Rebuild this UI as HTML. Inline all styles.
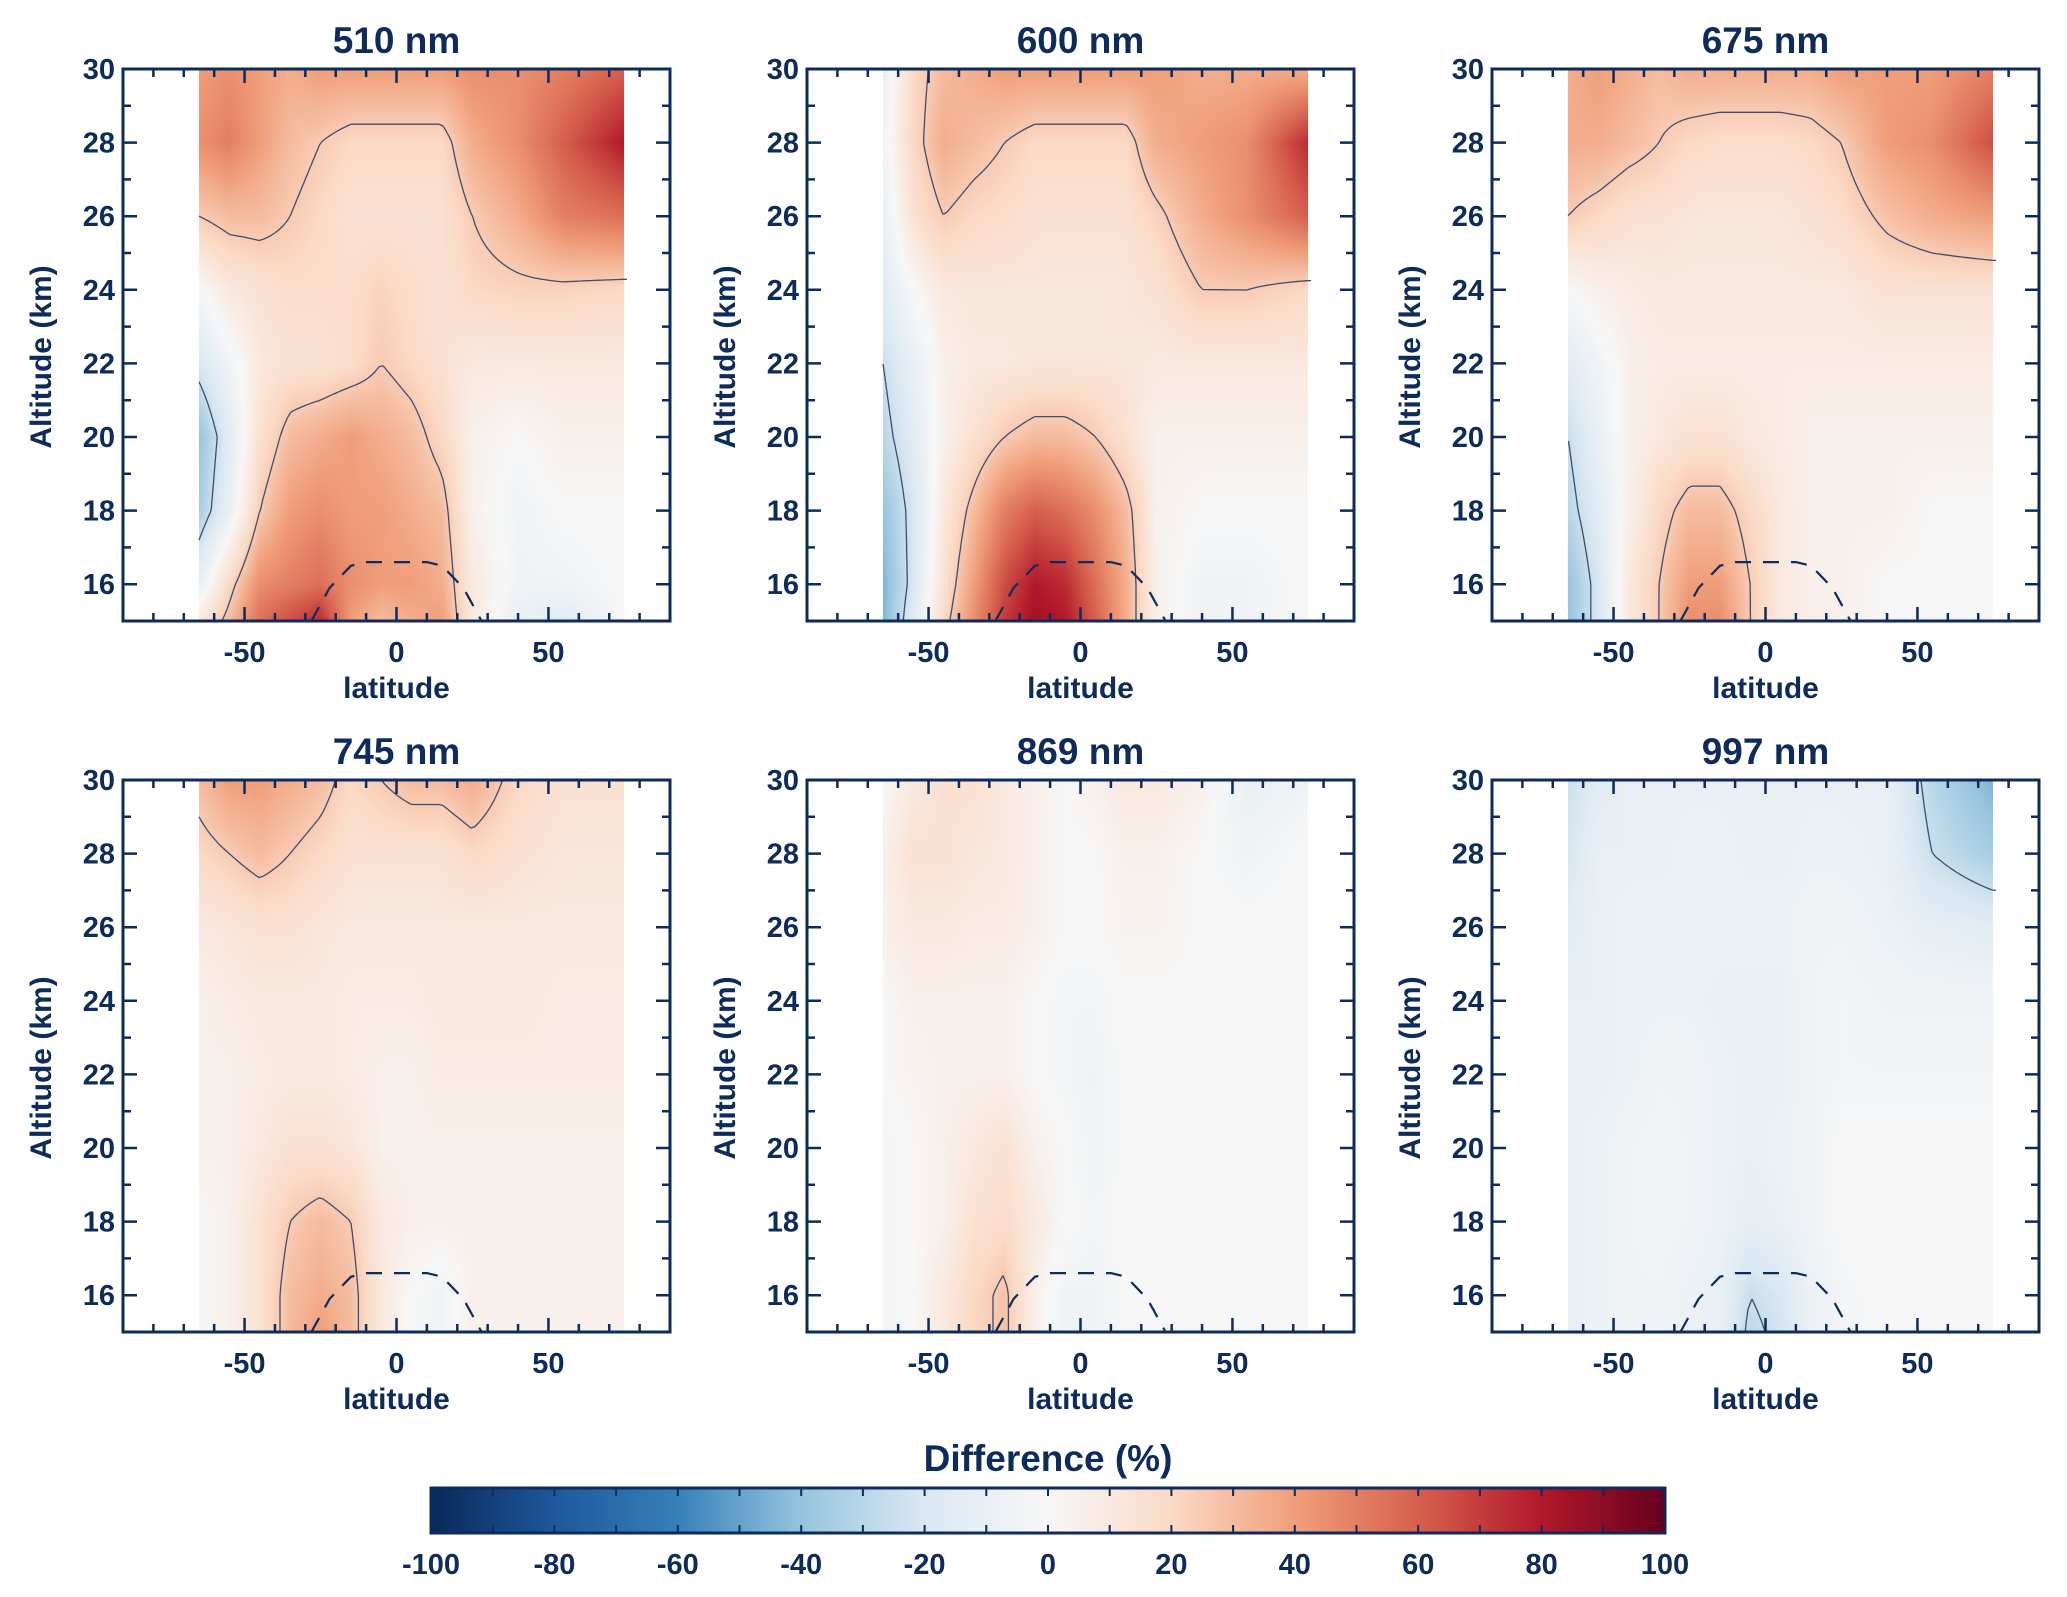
<!DOCTYPE html>
<html><head><meta charset="utf-8">
<style>
html,body{margin:0;padding:0;background:#fff;}
#wrap{position:relative;width:2067px;height:1597px;overflow:hidden;font-family:"Liberation Sans",sans-serif;}
canvas{position:absolute;}
svg{position:absolute;left:0;top:0;}
text{font-family:"Liberation Sans",sans-serif;font-weight:bold;fill:#0d2b5b;}
</style></head>
<body>
<div id="wrap">
<svg id="svg" width="2067" height="1597"></svg>
</div>
<script>
// ---- data ----
const titles = ["510 nm","600 nm","675 nm","745 nm","869 nm","997 nm"];
const lats = [-65,-55,-45,-35,-25,-15,-5,5,15,25,40,55,75];
const alts = [30,28,26,24,22,20,18,16,15];
const v510 = [
[40,45,40,35,40,40,40,40,40,45,45,50,60],
[45,50,40,30,25,20,20,20,20,35,45,60,80],
[25,30,30,25,20,15,15,15,15,25,35,50,55],
[0,10,15,18,18,18,22,18,15,20,22,22,20],
[-20,-5,10,15,15,18,25,20,15,10,10,10,10],
[-40,-15,15,30,35,40,35,30,20,5,0,5,5],
[-35,-10,25,40,45,40,40,35,30,5,-5,0,0],
[-10,20,45,50,55,45,40,40,35,10,-5,-5,0],
[10,30,55,65,75,40,30,35,40,10,-10,-15,0]];
const v600 = [
[-10,20,30,35,40,40,40,40,40,40,35,35,35],
[-5,20,35,30,25,20,20,20,20,35,40,45,75],
[-10,15,25,20,18,15,15,15,15,22,35,45,60],
[-15,0,10,12,12,12,12,12,12,15,25,25,20],
[-25,-10,5,10,10,12,12,12,12,10,10,10,10],
[-30,-15,5,15,25,30,30,25,15,5,5,5,5],
[-40,-20,10,30,50,60,55,45,30,5,0,0,0],
[-45,-20,15,40,65,80,75,55,35,5,-5,-5,0],
[-45,-15,20,45,70,85,80,60,35,5,-5,-5,0]];
const v675 = [
[35,40,35,30,35,35,35,35,35,40,40,40,50],
[35,35,30,25,20,18,18,18,20,25,40,45,65],
[25,20,15,15,12,12,12,12,15,18,28,35,40],
[0,5,8,10,10,10,10,10,10,10,15,15,15],
[-15,-5,5,8,8,8,8,8,8,8,8,8,8],
[-25,-10,5,10,15,15,10,8,5,5,5,5,5],
[-30,-15,5,20,30,30,20,10,5,5,5,0,0],
[-40,-20,10,25,40,40,25,10,5,5,0,0,0],
[-40,-20,10,25,45,45,25,10,5,5,0,0,0]];
const v745 = [
[30,40,40,35,30,20,25,30,30,35,20,15,15],
[20,25,30,25,20,15,15,15,15,20,15,12,12],
[10,12,15,15,12,10,10,10,10,10,10,10,10],
[5,8,10,10,10,8,8,8,10,10,10,8,8],
[5,5,8,10,10,8,5,5,8,8,8,8,8],
[5,5,10,15,15,12,5,5,5,5,5,5,5],
[0,5,15,25,30,25,10,5,5,5,5,5,5],
[0,5,15,30,35,30,10,0,-5,5,5,5,5],
[0,5,15,30,40,30,10,0,-5,5,5,5,5]];
const v869 = [
[0,10,15,15,10,5,0,5,10,10,5,-10,-5],
[5,15,15,12,10,5,0,0,5,5,0,-5,0],
[5,10,10,8,8,5,0,0,3,3,0,0,0],
[0,5,5,5,5,0,-3,-3,0,0,0,0,0],
[0,3,5,5,5,0,-3,-5,0,0,0,0,0],
[-3,0,5,10,15,5,0,-5,0,0,0,0,0],
[-3,0,5,15,18,10,0,-3,0,0,0,0,0],
[-3,0,10,20,28,5,-5,-5,0,0,0,0,0],
[-3,0,10,20,28,5,-5,-5,0,0,0,0,0]];
const v997 = [
[-25,-15,-10,-10,-10,-10,-10,-10,-10,-10,-10,-30,-45],
[-20,-10,-10,-10,-8,-8,-10,-10,-8,-8,-10,-25,-35],
[-15,-10,-8,-8,-8,-8,-8,-8,-5,-5,-8,-12,-15],
[-10,-10,-8,-8,-8,-10,-10,-10,-5,-3,-5,-5,-5],
[-10,-10,-8,-5,-5,-8,-10,-10,-5,-3,-3,-3,-3],
[-10,-8,-5,-3,-5,-8,-10,-8,-5,0,0,0,0],
[-10,-8,-5,-3,-5,-8,-12,-10,-5,0,0,0,0],
[-10,-8,-5,-5,-8,-10,-25,-20,-8,-3,0,0,0],
[-10,-8,-5,-5,-8,-10,-28,-22,-8,-3,0,0,0]];
const panelValues = [v510,v600,v675,v745,v869,v997];
const contourLevels = [25,-25];
const tropLat = [-28,-22,-15,-10,0,10,15,22,28];
const tropAlt = [15,15.9,16.5,16.6,16.6,16.6,16.5,15.9,15];
const xTicks = [-50,0,50];
const yTicks = [16,18,20,22,24,26,28,30];
const cbTicks = [-100,-80,-60,-40,-20,0,20,40,60,80,100];

// ---- layout ----
const NS="http://www.w3.org/2000/svg";
const svg=document.getElementById('svg');
const wrap=document.getElementById('wrap');
const PL=[123,807,1492], PT=[69,780], PW=547, PH=552;
const XMIN=-90,XMAX=90,YMIN=15,YMAX=30;
const C="#0d2b5b";
function el(tag,attrs,parent){const e=document.createElementNS(NS,tag);for(const k in attrs)e.setAttribute(k,attrs[k]);(parent||svg).appendChild(e);return e;}

const cmapStops=[[-100,[10,40,90]],[-80,[30,88,155]],[-60,[55,128,185]],[-40,[150,196,222]],[-20,[218,232,242]],[0,[247,247,247]],[20,[251,218,198]],[40,[240,158,122]],[60,[214,96,77]],[80,[178,24,43]],[100,[103,0,31]]];
function cmap(v){v=Math.max(-100,Math.min(100,v));for(let i=0;i<cmapStops.length-1;i++){const a=cmapStops[i],b=cmapStops[i+1];if(v<=b[0]){const t=(v-a[0])/(b[0]-a[0]);return [0,1,2].map(j=>Math.round(a[1][j]+(b[1][j]-a[1][j])*t));}}return cmapStops[10][1];}
function findIdx(arr,x,desc){ // returns [i,t]
  for(let i=0;i<arr.length-1;i++){const a=arr[i],b=arr[i+1];const lo=Math.min(a,b),hi=Math.max(a,b);if(x>=lo&&x<=hi){return [i,(x-a)/(b-a)];}}
  return x<arr[0]===!desc?[0,0]:[arr.length-2,1];
}
function sample(vals,lat,alt){
  const [i,ti]=findIdx(lats,lat,false);const [j,tj]=findIdx(alts,alt,true);
  const a=vals[j][i],b=vals[j][i+1],c=vals[j+1][i],d=vals[j+1][i+1];
  return (a*(1-ti)+b*ti)*(1-tj)+(c*(1-ti)+d*ti)*tj;
}

titles.forEach((title,p)=>{
  const L=PL[p%3],T=PT[Math.floor(p/3)];
  const sx=v=>L+(v-XMIN)/(XMAX-XMIN)*PW;
  const sy=v=>T+PH-(v-YMIN)/(YMAX-YMIN)*PH;
  const vals=panelValues[p];
  const g=el('g',{});
  
  
  // heatmap canvas
  const x0=Math.round(sx(lats[0])),x1=Math.round(sx(lats[lats.length-1]));
  const cw=x1-x0,ch=PH;
  const cv=document.createElement('canvas');cv.width=cw;cv.height=ch;
  cv.style.left=x0+'px';cv.style.top=T+'px';
  
  
  wrap.insertBefore(cv,svg);
  const ctx=cv.getContext('2d');const img=ctx.createImageData(cw,ch);
  for(let y=0;y<ch;y++){const alt=YMAX-(y+0.5)/ch*(YMAX-YMIN);
    for(let x=0;x<cw;x++){const lat=lats[0]+(x+0.5)/cw*(lats[lats.length-1]-lats[0]);
      const c=cmap(sample(vals,lat,alt));const k=(y*cw+x)*4;img.data[k]=c[0];img.data[k+1]=c[1];img.data[k+2]=c[2];img.data[k+3]=255;}}
  ctx.putImageData(img,0,0);
  // contours (marching squares)
  const step=4;const nx=Math.ceil(cw/step),ny=Math.ceil(ch/step);
  const grid=[];for(let j=0;j<=ny;j++){const row=[];const alt=YMAX-Math.min(j*step,ch)/ch*(YMAX-YMIN);
    for(let i=0;i<=nx;i++){const lat=lats[0]+Math.min(i*step,cw)/cw*(lats[lats.length-1]-lats[0]);row.push(sample(vals,lat,alt));}grid.push(row);}
  contourLevels.forEach(lv=>{
    let d='';
    for(let j=0;j<ny;j++)for(let i=0;i<nx;i++){
      const px=i*step+x0,py=j*step+T;
      const a=grid[j][i],b=grid[j][i+1],c=grid[j+1][i+1],e=grid[j+1][i];
      const pts=[];
      const ed=(va,vb,xa,ya,xb,yb)=>{if((va-lv)*(vb-lv)<0){const t=(lv-va)/(vb-va);pts.push([xa+(xb-xa)*t,ya+(yb-ya)*t]);}};
      ed(a,b,px,py,px+step,py);ed(b,c,px+step,py,px+step,py+step);ed(e,c,px,py+step,px+step,py+step);ed(a,e,px,py,px,py+step);
      if(pts.length>=2)d+=`M${pts[0][0].toFixed(1)},${pts[0][1].toFixed(1)}L${pts[1][0].toFixed(1)},${pts[1][1].toFixed(1)}`;
      if(pts.length===4)d+=`M${pts[2][0].toFixed(1)},${pts[2][1].toFixed(1)}L${pts[3][0].toFixed(1)},${pts[3][1].toFixed(1)}`;
    }
    const cp=el('path',{d:d,stroke:'#3d4d6d','stroke-width':1.3,fill:'none'},g);
    
    
  });
  // tropopause dashed line
  const td=tropLat.map((la,i)=>(i?'L':'M')+sx(la).toFixed(1)+','+sy(tropAlt[i]).toFixed(1)).join('');
  const tp=el('path',{d:td,stroke:C,'stroke-width':2.2,fill:'none','stroke-dasharray':'16,12'},g);
  
  
  // frame
  const fr=el('rect',{x:L,y:T,width:PW,height:PH,fill:'none',stroke:C,'stroke-width':3},g);
  
  
  // minor/major ticks
  let tk='';
  for(let v=-80;v<=80;v+=10){const X=sx(v);const len=(v%50===0)?14:8;tk+=`M${X},${T+PH}v${-len}M${X},${T}v${len}`;}
  for(let v=16;v<=29;v++){const Y=sy(v);const len=(v%2===0)?14:8;tk+=`M${L},${Y}h${len}M${L+PW},${Y}h${-len}`;}
  const tks=el('path',{d:tk,stroke:C,'stroke-width':2.5,fill:'none'},g);
  
  
  xTicks.forEach(v=>{const t=el('text',{x:sx(v),y:T+PH+41,'text-anchor':'middle','font-size':29},g);t.textContent=v;
    
    });
  yTicks.forEach(v=>{const t=el('text',{x:L-8,y:sy(v)+10,'text-anchor':'end','font-size':29},g);t.textContent=v;
    
    });
  const xl=el('text',{x:L+PW/2,y:T+PH+77,'text-anchor':'middle','font-size':30},g);xl.textContent='latitude';
  
  
  const yl=el('text',{x:0,y:0,'text-anchor':'middle','font-size':30,transform:`translate(${L-72},${T+PH/2+12}) rotate(-90)`},g);yl.textContent='Altitude (km)';
  
  
  const tt=el('text',{x:L+PW/2,y:T-16,'text-anchor':'middle','font-size':37},g);tt.textContent=title;
  
  
});

// ---- colorbar ----
const CBL=431,CBR=1665,CBT=1488,CBB=1533;
const cbx=v=>CBL+(v+100)/200*(CBR-CBL);
const defs=el('defs',{});
const lg=el('linearGradient',{id:'cbg',x1:0,x2:1,y1:0,y2:0},defs);
cmapStops.forEach(s=>el('stop',{offset:((s[0]+100)/200),'stop-color':`rgb(${s[1].join(',')})`},lg));
const cbg=el('g',{});


el('rect',{x:CBL,y:CBT,width:CBR-CBL,height:CBB-CBT,fill:'url(#cbg)',stroke:C,'stroke-width':3},cbg);
let ct='';for(let v=-90;v<=90;v+=10){const X=cbx(v);ct+=`M${X},${CBT}v8M${X},${CBB}v-8`;}
el('path',{d:ct,stroke:C,'stroke-width':2,fill:'none'},cbg);
cbTicks.forEach(v=>{const t=el('text',{x:cbx(v),y:1574,'text-anchor':'middle','font-size':29},cbg);t.textContent=v;
  
  });
const cbt=el('text',{x:1048,y:1471,'text-anchor':'middle','font-size':37},cbg);cbt.textContent='Difference (%)';


</script>
</body></html>
